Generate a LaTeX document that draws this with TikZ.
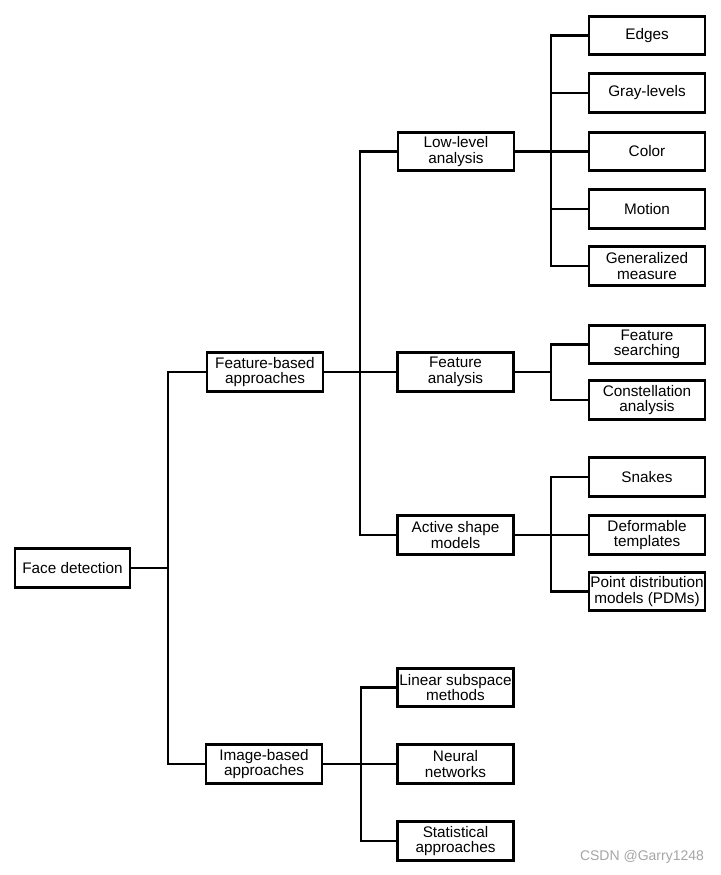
\documentclass[tikz,border=0pt]{standalone}
\usepackage{fontspec}
\setmainfont{Liberation Sans}
\begin{document}
\begin{tikzpicture}[x=1pt,y=-1pt,
  box/.style={draw, line width=2.6pt, fill=white, align=center, inner sep=0pt,
    minimum width=116pt, minimum height=38.5pt,
    font=\fontsize{15.3}{15.5}\selectfont},
  wire/.style={line width=2.6pt}]
\useasboundingbox[fill=white] (0,0) rectangle (720,875);

% nodes
\node[box, minimum width=115pt] (FD) at (72.5,568) {Face detection};
\node[box] (FB) at (265,372) {Feature-based\\approaches};
\node[box] (IB) at (264,764) {Image-based\\approaches};

\node[box] (LL) at (456,151.5) {Low-level\\analysis};
\node[box] (FA) at (455.5,372) {Feature\\analysis};
\node[box] (AS) at (455.5,535) {Active shape\\models};
\node[box] (LS) at (455.5,687.5) {Linear subspace\\methods};
\node[box] (NN) at (455.5,764) {Neural\\networks};
\node[box] (SA) at (455.5,841) {Statistical\\approaches};

\node[box] (ED) at (647,35.5) {Edges};
\node[box] (GL) at (647,93) {Gray-levels};
\node[box] (CO) at (647,151.5) {Color};
\node[box] (MO) at (647,209) {Motion};
\node[box] (GM) at (647,266) {Generalized\\measure};
\node[box] (FS) at (647,344.5) {Feature\\searching};
\node[box] (CA) at (647,400) {Constellation\\analysis};
\node[box] (SN) at (647,477) {Snakes};
\node[box] (DT) at (647,535) {Deformable\\templates};
\node[box] (PD) at (647,591.5) {Point distribution\\models (PDMs)};

% junction points
\coordinate (j1) at (168,568);
\coordinate (j2) at (360,372);
\coordinate (j3) at (551,151.5);
\coordinate (j4) at (551,372);
\coordinate (j5) at (551,535);
\coordinate (j6) at (361,764);

% connectors
\draw[wire] (FD.east) -- (j1);
\draw[wire] (FB.west) -| (j1) |- (IB.west);

\draw[wire] (FB.east) -- (FA.west);
\draw[wire] (LL.west) -| (j2) |- (AS.west);

\draw[wire] (LL.east) -- (CO.west);
\draw[wire] (ED.west) -| (j3) |- (GM.west);
\draw[wire] (GL.west) -- (GL.west -| j3);
\draw[wire] (MO.west) -- (MO.west -| j3);

\draw[wire] (FA.east) -- (j4);
\draw[wire] (FS.west) -| (j4) |- (CA.west);

\draw[wire] (AS.east) -- (DT.west);
\draw[wire] (SN.west) -| (j5) |- (PD.west);

\draw[wire] (IB.east) -- (NN.west);
\draw[wire] (LS.west) -| (j6) |- (SA.west);

% watermark
\node[text=black!35, font=\fontsize{14}{14}\selectfont, inner sep=0pt] (WM) at (642,857) {CSDN @Garry1248};
\end{tikzpicture}
\end{document}
